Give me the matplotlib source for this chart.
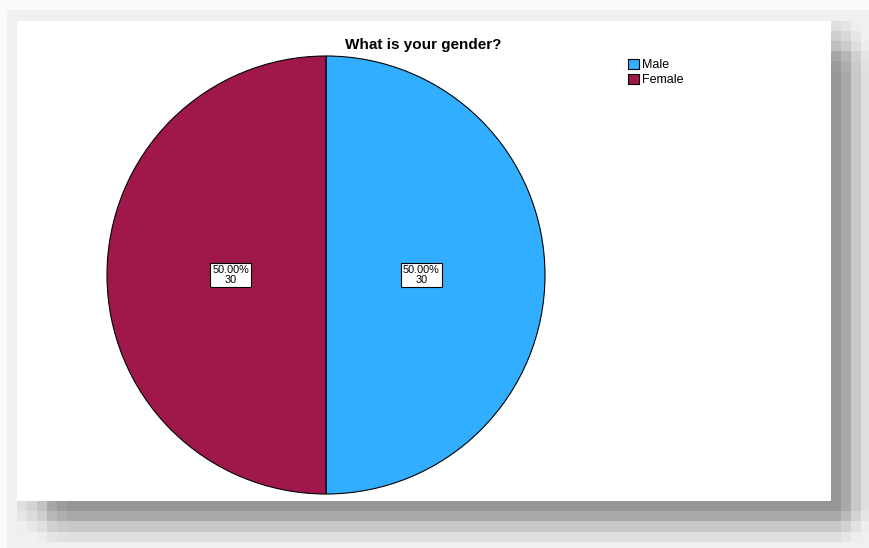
import numpy as np
import matplotlib.pyplot as plt

plt.rcParams['font.family'] = ['Liberation Sans', 'DejaVu Sans']

categories = ['Male', 'Female']
counts = [30, 30]
colors = ['#31aeff', '#a0174c']

W, H = 870, 548
fig = plt.figure(figsize=(W / 100, H / 100), dpi=100, facecolor='#fafafa')


def steps(v, edges, levels):
    # piecewise-constant ramp: levels[i] on [edges[i], edges[i+1])
    out = np.zeros_like(v, dtype=float)
    for a, b, lv in zip(edges[:-1], edges[1:], levels):
        out[(v >= a) & (v < b)] = lv
    return out


# card background with a blocky drop shadow to the right and below
xs = np.arange(W)
ys = np.arange(H)
fx = steps(xs, [17, 27, 37, 47, 57, 67, 831, 841, 851, 861, 870],
           [0.3, 0.41, 0.56, 0.83, 0.94, 1, 1, 0.81, 0.52, 0.3])
fy = steps(ys, [21, 31, 41, 51, 61, 71, 501, 511, 521, 532, 542, 548],
           [0.3, 0.45, 0.6, 0.85, 0.95, 1, 1, 0.81, 0.52, 0.3, 0.14])
dark = 105 * fy[:, None] * fx[None, :]
bg = np.full((H, W), 250.0)
bg[10:, 7:] = 240
img = np.minimum(bg, 255 - dark)
img[21:501, 17:831] = 255
img = np.repeat(img[:, :, None], 3, axis=2).astype(np.uint8)
fig.figimage(img, xo=0, yo=0, origin='upper', zorder=-10)

# pie axes: centre at (326, 275) px, radius 219 px
half = 225
lim = half / 219
ax = fig.add_axes([(326 - half) / W, (H - 275 - half) / H, 2 * half / W, 2 * half / H])
ax.patch.set_alpha(0)

total = sum(counts)
wedges, _ = ax.pie(counts, colors=colors, startangle=90, counterclock=False,
                   radius=1, wedgeprops=dict(edgecolor='black', linewidth=0.8))
ax.set_xlim(-lim, lim)
ax.set_ylim(-lim, lim)
ax.set_aspect('equal')
ax.axis('off')

for w, c in zip(wedges, counts):
    ang = np.deg2rad((w.theta1 + w.theta2) / 2)
    ax.text(0.435 * np.cos(ang), 0.435 * np.sin(ang),
            '{:.2f}%\n{}'.format(100 * c / total, c),
            ha='center', va='center', fontsize=7.8, linespacing=0.9,
            bbox=dict(boxstyle='square,pad=0.2', facecolor='white',
                      edgecolor='black', linewidth=0.8))

fig.text(423 / W, 1 - 45 / H, 'What is your gender?', ha='center', va='center',
         fontsize=11, fontweight='bold')

fig.legend(wedges, categories, loc='upper left',
           bbox_to_anchor=(628 / W, 1 - 59 / H), frameon=False,
           fontsize=9, handlelength=0.85, handleheight=0.85,
           handletextpad=0.3, labelspacing=0.2, borderpad=0, borderaxespad=0)

fig.savefig('out.png', dpi=100, facecolor=fig.get_facecolor())
